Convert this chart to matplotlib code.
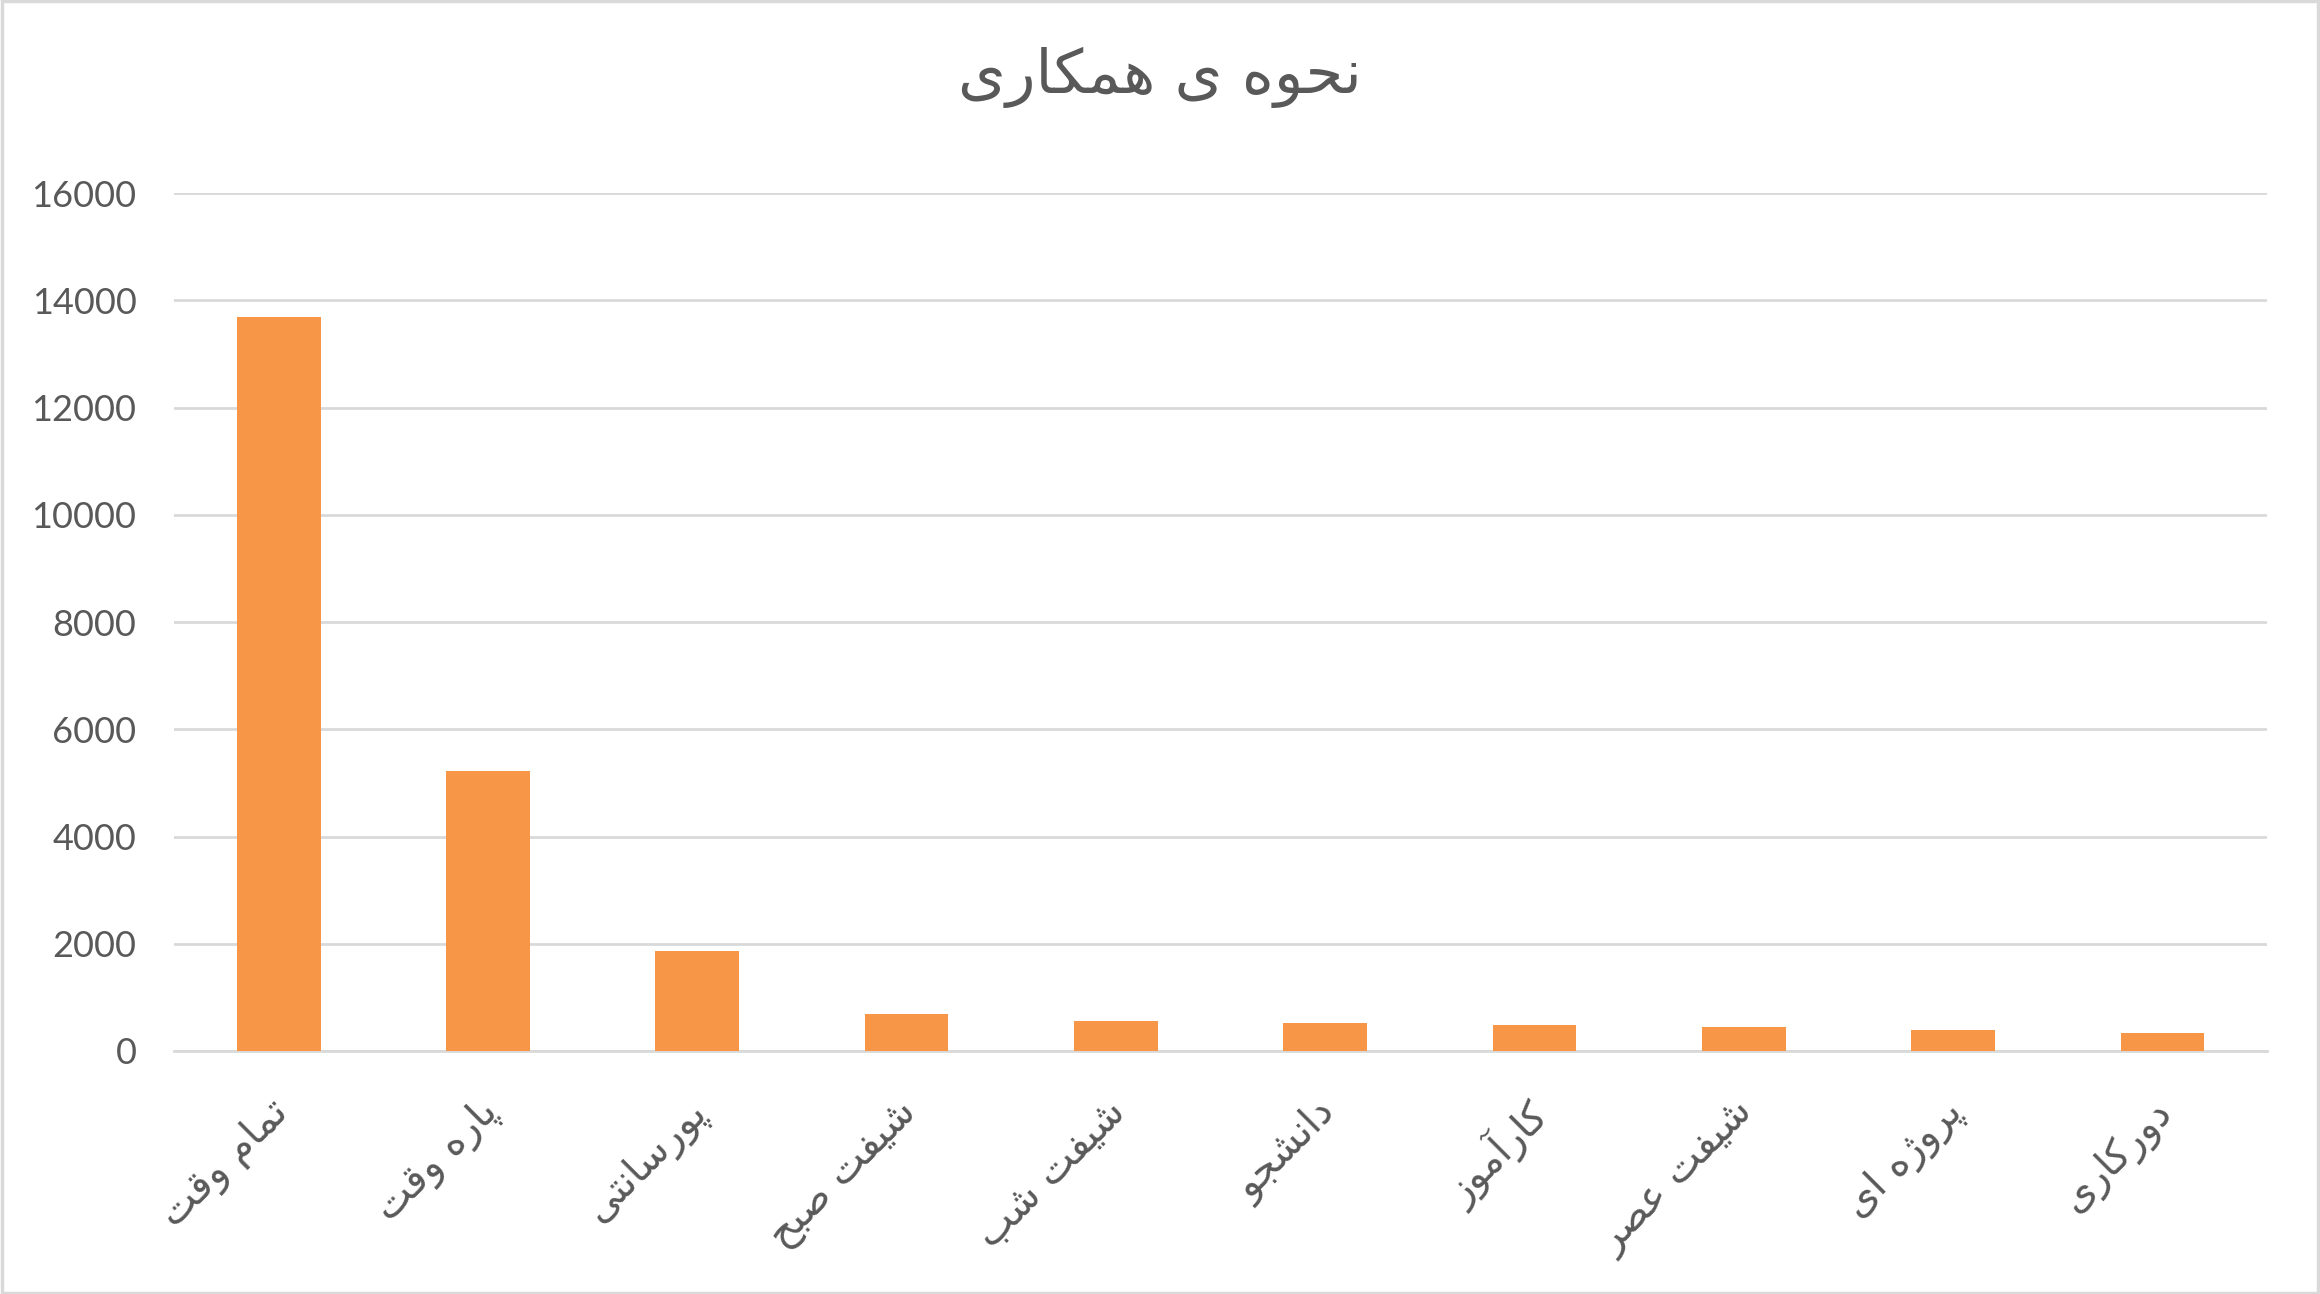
import matplotlib
matplotlib.use("Agg")
import matplotlib.pyplot as plt
import matplotlib.transforms as mtransforms
from matplotlib.patches import Rectangle

# data
labels = ["تمام وقت", "پاره وقت", "پورسانتی", "شیفت صبح", "شیفت شب",
          "دانشجو", "کارآموز", "شیفت عصر", "پروژه ای", "دورکاری"]
values = [13690, 5216, 1860, 696, 565, 528, 478, 453, 397, 341]
yticks = [0, 2000, 4000, 6000, 8000, 10000, 12000, 14000, 16000]
title = "نحوه ی همکاری"

# tiny persian shaper: isolated, final, initial, medial
FORMS = {
    "ا": ("\uFE8D", "\uFE8E", None, None),
    "آ": ("\uFE81", "\uFE82", None, None),
    "ب": ("\uFE8F", "\uFE90", "\uFE91", "\uFE92"),
    "پ": ("\uFB56", "\uFB57", "\uFB58", "\uFB59"),
    "ت": ("\uFE95", "\uFE96", "\uFE97", "\uFE98"),
    "ج": ("\uFE9D", "\uFE9E", "\uFE9F", "\uFEA0"),
    "ح": ("\uFEA1", "\uFEA2", "\uFEA3", "\uFEA4"),
    "د": ("\uFEA9", "\uFEAA", None, None),
    "ر": ("\uFEAD", "\uFEAE", None, None),
    "ز": ("\uFEAF", "\uFEB0", None, None),
    "ژ": ("\uFB8A", "\uFB8B", None, None),
    "س": ("\uFEB1", "\uFEB2", "\uFEB3", "\uFEB4"),
    "ش": ("\uFEB5", "\uFEB6", "\uFEB7", "\uFEB8"),
    "ص": ("\uFEB9", "\uFEBA", "\uFEBB", "\uFEBC"),
    "ع": ("\uFEC9", "\uFECA", "\uFECB", "\uFECC"),
    "ف": ("\uFED1", "\uFED2", "\uFED3", "\uFED4"),
    "ق": ("\uFED5", "\uFED6", "\uFED7", "\uFED8"),
    "ک": ("\uFB8E", "\uFB8F", "\uFB90", "\uFB91"),
    "م": ("\uFEE1", "\uFEE2", "\uFEE3", "\uFEE4"),
    "ن": ("\uFEE5", "\uFEE6", "\uFEE7", "\uFEE8"),
    "ه": ("\uFEE9", "\uFEEA", "\uFEEB", "\uFEEC"),
    "و": ("\uFEED", "\uFEEE", None, None),
    "ی": ("\uFBFC", "\uFBFD", "\uFBFE", "\uFBFF"),
}


def shape(s):
    out = []
    for i, c in enumerate(s):
        if c not in FORMS:
            out.append(c)
            continue
        prev = s[i - 1] if i > 0 else ""
        nxt = s[i + 1] if i + 1 < len(s) else ""
        join_prev = prev in FORMS and FORMS[prev][2] is not None
        join_next = FORMS[c][2] is not None and nxt in FORMS
        iso, fin, ini, med = FORMS[c]
        if join_prev and join_next:
            out.append(med)
        elif join_prev:
            out.append(fin)
        elif join_next:
            out.append(ini)
        else:
            out.append(iso)
    return "".join(out)[::-1]


grid_col = "#D9D9D9"
text_col = "#595959"

fig = plt.figure(figsize=(23.2, 12.94), dpi=100)
ax = fig.add_axes([0.075, 0.1878, 0.9022, 0.663])

x = list(range(len(values)))
ax.bar(x, values, width=0.4, color="#F79646", zorder=3)

ax.set_xlim(-0.5, len(values) - 0.5)
ax.set_ylim(0, 16000)
ax.set_yticks(yticks)
ax.set_yticklabels([str(t) for t in yticks], family="Lato", fontsize=26, color=text_col)
ax.grid(axis="y", color=grid_col, linewidth=2, zorder=0)
ax.tick_params(length=0)
ax.tick_params(axis="y", pad=27)
ax.tick_params(axis="x", pad=30)

ax.set_xticks(x)
ax.set_xticklabels([shape(l) for l in labels], family="DejaVu Sans", fontsize=29,
                   color=text_col, rotation=45, ha="right", va="top",
                   rotation_mode="anchor")
shift = mtransforms.ScaledTranslation(-0.1, 0, fig.dpi_scale_trans)
for lab in ax.get_xticklabels():
    lab.set_transform(lab.get_transform() + shift)

for side in ["top", "right", "left"]:
    ax.spines[side].set_visible(False)
ax.spines["bottom"].set_color(grid_col)
ax.spines["bottom"].set_linewidth(2)

fig.text(0.5, 0.94, shape(title), family="DejaVu Sans", fontsize=44,
         color=text_col, ha="center", va="center")

fig.patches.append(Rectangle((0.001, 0.001), 0.998, 0.998, transform=fig.transFigure,
                             fill=False, edgecolor=grid_col, linewidth=2.5))

fig.savefig("out.png", dpi=100)
